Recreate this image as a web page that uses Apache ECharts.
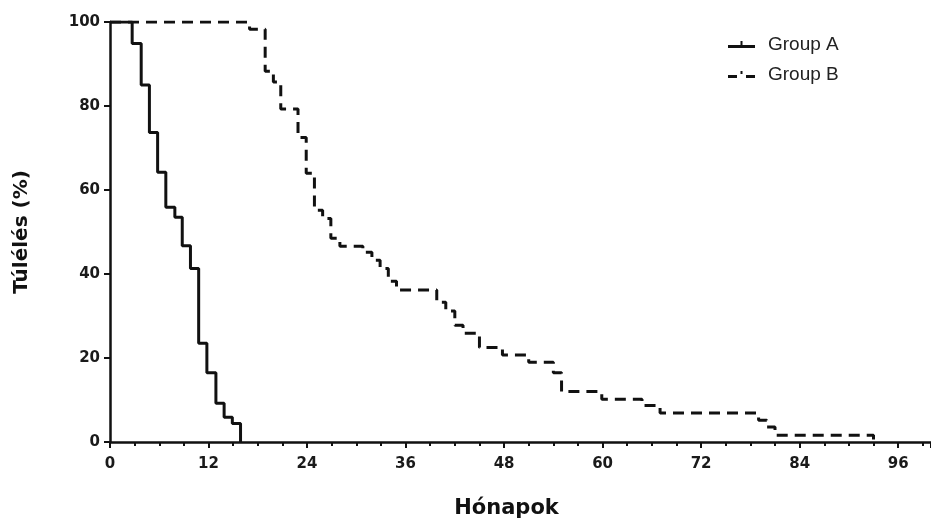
<!DOCTYPE html>
<html>
<head>
<meta charset="utf-8">
<script src="https://cdn.jsdelivr.net/npm/echarts@6/dist/echarts.min.js"></script>
<style>
  html, body { margin: 0; padding: 0; background: #fff; }
  #main { width: 931px; height: 520px; }
</style>
</head>
<body>
<div id="main"></div>
<script>
// Kaplan-Meier steps: [month, survival % after the event]
const groupA = [
  [0, 100], [2.7, 94.9], [3.8, 85], [4.8, 73.7], [5.8, 64.2], [6.8, 55.9],
  [7.9, 53.5], [8.8, 46.7], [9.8, 41.3], [10.8, 23.5], [11.8, 16.5],
  [12.9, 9.2], [13.9, 5.9], [14.9, 4.4], [15.9, 0]
];
const groupB = [
  [0, 100], [17, 98.3], [18.9, 88.3], [19.9, 85.7], [20.8, 79.3], [22.9, 72.5],
  [23.9, 64], [24.9, 55.2], [25.9, 53.2], [26.9, 48.5], [28, 46.6], [30.8, 45.2],
  [31.9, 43.3], [32.9, 41.3], [33.9, 38.3], [34.9, 36.2], [39.8, 33.3],
  [40.9, 31.2], [42, 27.8], [43, 25.9], [45, 22.5], [47.8, 20.7], [51, 19],
  [54, 16.5], [55, 12], [59.9, 10.2], [64.8, 8.7], [67, 6.9], [79, 5.2],
  [80, 3.6], [81, 1.6], [93, 0]
];
const seriesNames = ["Group A", "Group B"];

// legend glyphs: line with a small tick, like the original plot
const iconA = "path://M0,6 L27,6 L27,9 L0,9 Z M12.5,2 L14.5,2 L14.5,6 L12.5,6 Z";
const iconB = "path://M0,6 L9,6 L9,9 L0,9 Z M12.5,2 L14.5,2 L14.5,5 L12.5,5 Z M18,6 L27,6 L27,9 L18,9 Z";

var myChart = echarts.init(document.getElementById("main"));
const labelFont = {
  fontFamily: "DejaVu Sans",
  fontWeight: "bold",
  fontSize: 15,
  color: "#1a1a1a"
};
myChart.setOption({
  animation: false,
  grid: { left: 110, right: 0, top: 22, bottom: 78, outerBoundsMode: "none" },
  legend: {
    orient: "vertical",
    left: 723,
    top: 30,
    itemWidth: 27,
    itemHeight: 7,
    itemGap: 11,
    data: [
      { name: seriesNames[0], icon: iconA },
      { name: seriesNames[1], icon: iconB }
    ],
    textStyle: {
      fontFamily: "Liberation Sans",
      fontSize: 19,
      color: "#222",
      padding: [0, 0, 0, 8]
    }
  },
  xAxis: {
    type: "value",
    min: 0,
    max: 100,
    interval: 12,
    name: "Hónapok",
    nameLocation: "middle",
    nameGap: 56,
    nameTextStyle: {
      fontFamily: "DejaVu Sans", fontWeight: "bold", fontSize: 21, color: "#111",
      padding: [0, 28, 0, 0]
    },
    axisLine: { lineStyle: { color: "#111", width: 2.5 } },
    axisTick: { length: 6, lineStyle: { color: "#111", width: 2 } },
    minorTick: { show: true, splitNumber: 4, length: 4, lineStyle: { color: "#111", width: 2 } },
    axisLabel: Object.assign({ margin: 15, showMaxLabel: false }, labelFont),
    splitLine: { show: false }
  },
  yAxis: {
    type: "value",
    min: 0,
    max: 100,
    interval: 20,
    name: "Túlélés (%)",
    nameLocation: "middle",
    nameGap: 78,
    nameTextStyle: { fontFamily: "DejaVu Sans", fontWeight: "bold", fontSize: 20, color: "#111" },
    axisLine: { show: true, lineStyle: { color: "#111", width: 2.5 } },
    axisTick: { show: true, length: 6, lineStyle: { color: "#111", width: 2 } },
    axisLabel: Object.assign({ margin: 10 }, labelFont),
    splitLine: { show: false }
  },
  series: [
    {
      name: seriesNames[0],
      type: "line",
      step: "end",
      showSymbol: false,
      data: groupA,
      itemStyle: { color: "#111" },
      lineStyle: { color: "#111", width: 3 }
    },
    {
      name: seriesNames[1],
      type: "line",
      step: "end",
      showSymbol: false,
      data: groupB,
      itemStyle: { color: "#111" },
      lineStyle: { color: "#111", width: 3, type: [11, 7] }
    }
  ]
});
</script>
</body>
</html>
